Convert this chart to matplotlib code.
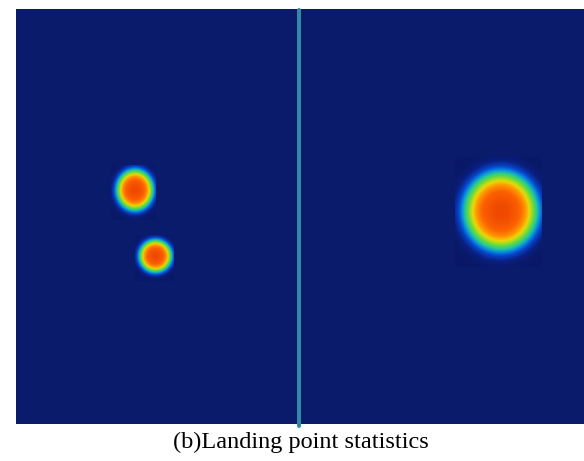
import numpy as np
import matplotlib
matplotlib.use("Agg")
import matplotlib.pyplot as plt
from matplotlib.colors import LinearSegmentedColormap

# field size (plot units, y downward)
field_w = 568
field_h = 415

# landing clusters: centre, radius of the green contour, heat box
blob_cx = [119, 139.5, 485]
blob_cy = [181, 247, 202]
blob_rx = [17.5, 15.5, 35]
blob_ry = [19.5, 15.5, 37]
box_x0 = [95, 119, 439]
box_x1 = [140, 158, 526]
box_y0 = [156, 226, 148]
box_y1 = [211, 272, 258]

# dividing line
line_x = 283
line_y = [1, 417]

caption = "(b)Landing point statistics"

bg_color = "#0b1b6c"
# colour stops given as normalised radius -> colour, converted to exp(-r^2)
stop_r = [1.6, 1.38, 1.22, 1.11, 1.03, 0.95, 0.88, 0.81, 0.71, 0.54, 0.0]
stop_c = ["#091867", "#0a1f80", "#0646cc", "#0a96de", "#28cc8c", "#60d848",
          "#a8dc20", "#e8d808", "#ff9800", "#fc6200", "#f04800"]
stop_v = [float(np.exp(-r ** 2)) for r in stop_r]
stop_v = [(v - stop_v[0]) / (1 - stop_v[0]) for v in stop_v]
cmap = LinearSegmentedColormap.from_list("heat", list(zip(stop_v, stop_c)))
vmin = float(np.exp(-stop_r[0] ** 2))

fig = plt.figure(figsize=(5.84, 4.61), dpi=100)
ax = fig.add_axes([16 / 584, (461 - 424) / 461, 568 / 584, 415 / 461])
ax.set_facecolor(bg_color)

for i in range(len(blob_cx)):
    xs = np.linspace(box_x0[i], box_x1[i], 150)
    ys = np.linspace(box_y0[i], box_y1[i], 150)
    X, Y = np.meshgrid(xs, ys)
    r = np.sqrt(((X - blob_cx[i]) / blob_rx[i]) ** 2 + ((Y - blob_cy[i]) / blob_ry[i]) ** 2)
    z = np.exp(-r ** 2)
    ax.imshow(z, extent=(box_x0[i], box_x1[i], box_y1[i], box_y0[i]),
              cmap=cmap, vmin=vmin, vmax=1, interpolation="bilinear", zorder=1)

ax.set_xlim(0, field_w)
ax.set_ylim(field_h, 0)
ax.set_aspect("auto")

ax.plot([line_x, line_x], line_y, color="#3489a4", lw=2.9,
        solid_capstyle="round", clip_on=False, zorder=3)

for s in ax.spines.values():
    s.set_visible(False)
ax.set_xticks([])
ax.set_yticks([])

fig.text(301 / 584, 1 - 442 / 461, caption,
         ha="center", va="center", fontsize=17.5, family="Liberation Serif")

fig.savefig("out.png", dpi=100)
